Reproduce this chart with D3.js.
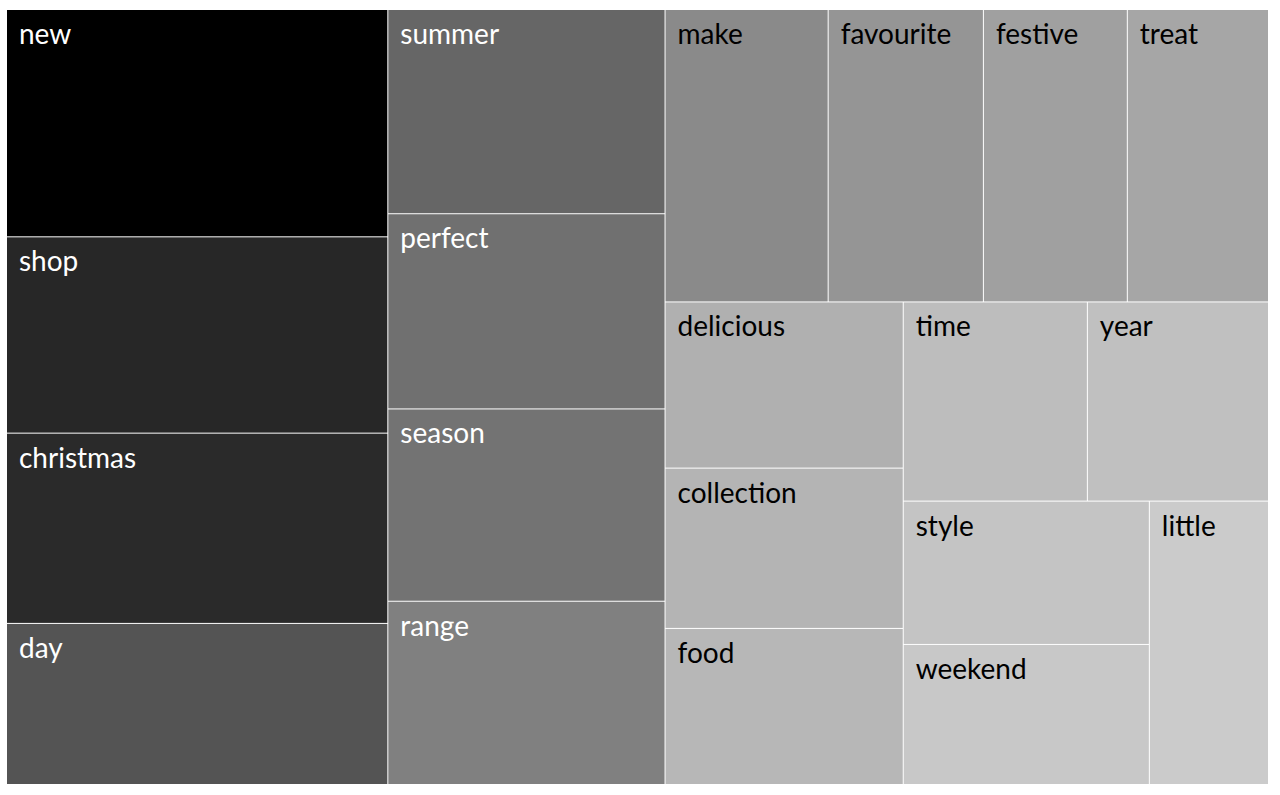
<!DOCTYPE html>
<html>
<head>
<meta charset="utf-8">
<script src="https://cdn.jsdelivr.net/npm/d3@7"></script>
<style>
  html, body { margin: 0; padding: 0; background: #fff; }
  svg { display: block; }
</style>
</head>
<body>
<svg id="chart" width="1280" height="795"></svg>
<script>
const words = ["new","shop","christmas","day","summer","perfect","season","range","make","favourite","festive","treat","delicious","collection","food","time","year","style","weekend","little"];
const counts = [86.5,74.7,72.4,61.3,56.5,54.0,53.2,50.7,47.6,45.3,42.0,41.2,39.5,38.1,37.1,36.6,36.0,35.2,34.4,33.7];
const fills = ["#000000","#272727","#2a2a2a","#545454","#666666","#707070","#737373","#808080","#8a8a8a","#959595","#a0a0a0","#a6a6a6","#b0b0b0","#b4b4b4","#b7b7b7","#bdbdbd","#c0c0c0","#c4c4c4","#c8c8c8","#cbcbcb"];

const W = 1280, H = 795;
const margin = {left: 7, top: 10, right: 12, bottom: 11};
const svg = d3.select("#chart");

const root = d3.hierarchy({children: words.map((w, i) => ({name: w, value: counts[i], idx: i}))})
  .sum(d => d.value || 0)
  .sort((a, b) => b.value - a.value);

d3.treemap()
  .tile(d3.treemapSquarify)
  .size([W - margin.left - margin.right, H - margin.top - margin.bottom])
  .paddingInner(1)
  .round(false)(root);

const g = svg.append("g").attr("transform", `translate(${margin.left},${margin.top})`);
const cell = g.selectAll("g").data(root.leaves()).join("g")
  .attr("transform", d => `translate(${d.x0},${d.y0})`);

cell.append("rect")
  .attr("width", d => d.x1 - d.x0)
  .attr("height", d => d.y1 - d.y0)
  .attr("fill", d => fills[d.data.idx]);

cell.append("text")
  .attr("x", 12)
  .attr("y", 34)
  .attr("font-family", "Lato, 'Open Sans', sans-serif")
  .attr("font-size", 28)
  .attr("fill", d => d.data.idx <= 7 ? "#ffffff" : "#000000")
  .text(d => d.data.name);
</script>
</body>
</html>
